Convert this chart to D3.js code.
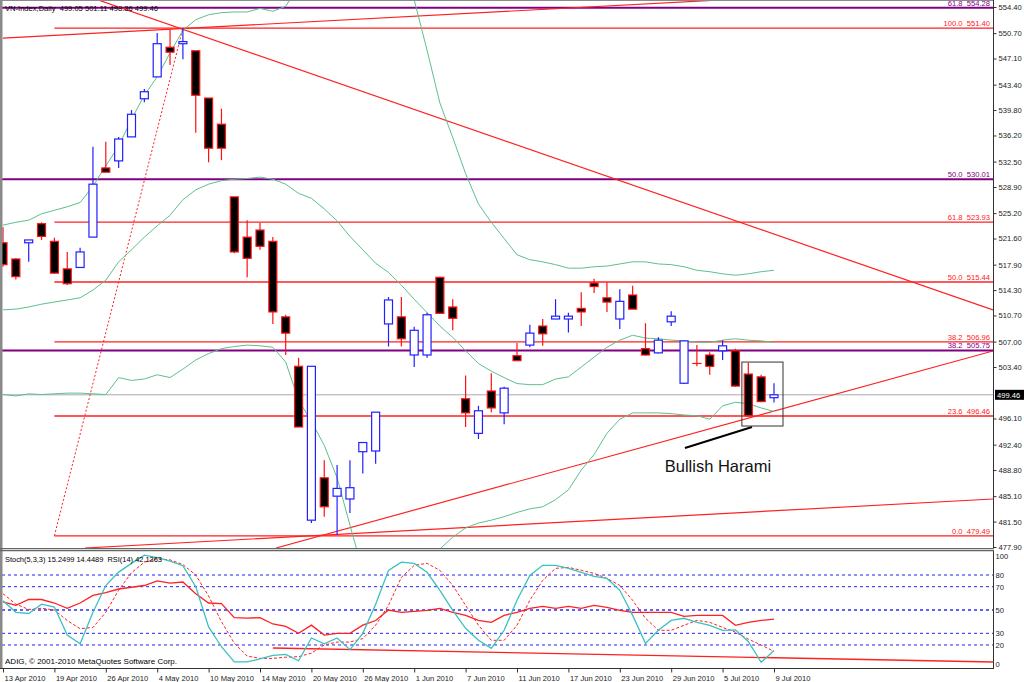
<!DOCTYPE html>
<html><head><meta charset="utf-8">
<script src="https://cdn.jsdelivr.net/npm/d3@7"></script>
<style>
body{margin:0;background:#fff;}
svg{display:block;}
text{font-family:"Liberation Sans",Arial,sans-serif;}
</style>
</head><body>
<svg id="c" width="1024" height="682"></svg>
<script>
// ---------------- DATA ----------------
const dates = ["13 Apr","14 Apr","15 Apr","16 Apr","19 Apr","20 Apr","21 Apr","22 Apr","26 Apr","27 Apr",
"28 Apr","29 Apr","4 May","5 May","6 May","7 May","10 May","11 May","12 May","13 May",
"14 May","17 May","18 May","19 May","20 May","21 May","24 May","25 May","26 May","27 May",
"28 May","31 May","1 Jun","2 Jun","3 Jun","4 Jun","7 Jun","8 Jun","9 Jun","10 Jun",
"11 Jun","14 Jun","15 Jun","16 Jun","17 Jun","18 Jun","21 Jun","22 Jun","23 Jun","24 Jun",
"25 Jun","28 Jun","29 Jun","30 Jun","1 Jul","2 Jul","5 Jul","6 Jul","7 Jul","8 Jul","9 Jul"];

const open  = [521.0,518.7,521.0,523.7,521.2,517.3,517.5,521.8,531.6,532.6,
536.0,541.4,544.5,548.7,549.2,548.2,541.5,537.8,527.5,521.8,
522.8,521.2,510.5,503.5,481.7,487.7,485.1,484.7,491.4,491.5,
509.5,510.5,505.1,505.1,516.1,511.9,498.9,494.0,500.0,496.9,
505.0,506.5,509.2,510.2,510.2,511.7,515.3,513.2,510.2,513.6,
506.0,505.4,509.8,501.1,503.9,505.1,505.7,505.7,502.4,502.0,499.05];
const high  = [523.2,518.8,521.4,523.9,521.7,519.7,520.3,534.6,535.3,536.0,
539.8,542.8,550.7,551.2,551.4,548.2,541.5,540.0,527.5,524.2,
523.8,521.8,510.8,504.7,503.5,490.2,489.5,490.2,492.7,497.0,
513.3,513.3,509.1,511.1,516.2,513.0,502.2,497.9,502.5,500.6,
506.8,509.4,510.2,513.0,511.1,514.0,515.9,515.4,514.4,514.9,
509.6,507.6,511.3,507.1,506.5,505.5,507.2,506.0,504.0,502.3,501.11];
const low   = [517.6,515.8,518.3,521.4,516.6,515.0,517.5,521.8,531.0,531.6,
536.0,540.9,544.5,546.2,547.0,536.6,532.4,532.7,519.5,516.1,
520.0,509.5,505.1,494.9,481.3,482.2,479.6,482.7,488.3,489.7,
506.3,506.3,503.4,504.7,511.0,508.6,494.9,493.2,497.0,495.3,
504.3,506.2,506.4,510.2,508.3,509.2,513.9,511.2,508.8,511.6,
505.0,505.3,509.2,501.0,503.5,502.3,504.4,500.6,496.3,498.4,498.36];
const close = [517.9,516.2,521.4,521.9,516.7,515.2,519.7,529.3,531.0,535.7,
539.2,542.4,549.2,548.0,549.5,541.9,534.4,534.4,519.7,518.8,
520.5,511.2,508.2,494.9,503.5,483.6,486.2,486.3,492.7,497.0,
512.9,507.4,508.6,510.8,511.0,510.3,496.9,497.2,497.6,500.4,
504.3,508.2,508.1,510.6,510.6,511.2,514.8,512.6,512.7,511.6,
505.1,507.2,510.6,507.1,503.9,503.5,506.4,500.7,496.5,498.5,499.46];

// Bollinger bands
const bbUpper = [523.5,523.9,524.2,525.1,525.6,526.1,526.7,529.0,531.9,534.7,
538.5,541.9,544.5,547.9,551.1,552.6,553.3,553.6,553.7,553.7,
554.2,553.8,554.5,557.3,558.9,559.3,560.5,562.8,565.5,565.2,
564.6,562.0,555.4,548.3,540.8,535.9,530.8,526.5,523.9,521.6,
519.3,518.6,518.3,517.9,517.4,517.4,517.6,517.7,518.0,518.3,
518.3,518.0,517.9,517.6,517.1,516.9,516.6,516.4,516.6,516.9,517.1];
const bbMiddle = [511.5,511.6,511.9,512.3,512.6,512.9,513.2,514.3,515.7,518.3,
520.0,521.8,523.4,524.9,527.1,528.5,529.3,529.8,530.0,530.1,
530.3,530.0,529.3,528.0,527.3,525.8,524.1,521.9,520.0,518.1,
516.8,515.0,513.0,511.1,509.2,507.6,505.7,503.9,502.8,501.9,
501.05,500.9,500.9,501.7,502.0,503.4,504.8,506.2,507.2,507.9,
507.5,507.4,507.2,507.1,506.9,506.9,507.2,507.4,507.2,507.1,506.9];
const bbLower = [499.5,499.3,499.6,499.5,499.6,499.7,499.7,499.6,499.5,501.9,
501.5,501.7,502.3,501.9,503.1,504.4,505.3,506.0,506.3,506.5,
506.4,506.2,504.1,498.7,495.7,492.3,487.7,481.0,474.5,471.0,
469.0,468.0,470.6,473.9,477.6,479.3,480.6,481.3,481.7,482.2,
482.8,483.3,483.6,484.6,486.0,488.8,491.0,494.0,496.0,496.9,
496.9,496.9,496.8,496.6,496.5,496.0,497.9,498.4,498.2,497.6,497.1];

// Lower window: Stochastic(5,3,3) and RSI(14)
const stochMain = [58,48,47,55,52.5,28.5,21,48,71,82.5,
90,97,95,92,88,70,35.5,18.5,5.5,5.5,
8,11,12,6.5,26,21,26,16,30,55,
84,91,90,82.3,66.9,49.7,34.3,24,17.1,32.6,
58.3,79.7,88.3,88.3,85.7,82.3,78.9,77.1,66.9,45.4,
21.4,32.6,41.1,42.9,39.4,36.9,32.6,33,23,5.1,15.2499];
const stochSignal = [64,55,50.5,51.5,50,41,34,35,48,67,
82,91,94,93,89,80,62,40,21.5,10.5,
8.5,8.5,9.5,10,13,20,22.5,22.5,25.5,37,
54,78,88.3,90,84,71.1,54,36.9,24,24,
36.9,58.3,75.4,85.7,86.6,84,81.4,77.1,71.1,58.3,
42.9,32.6,32.6,36.9,41.1,39.4,35.1,30.9,25,20,14.4489];
const rsi = [57,54,59,59,56,51.5,56,62.5,65,68,
69.5,71,75,73,74,64,56,55.5,43.5,43,
43.5,38,36,30,37,28.5,30,30,37,41,
50,48,48.9,49.7,51.4,48,45.4,41.1,39.4,45.4,
48,51.4,53.1,51.4,53.1,51.4,54,52.3,49.7,48,
48,48,48,44.6,45.4,45.4,45.4,36.9,39.4,41.1,42.1363];

// axis labels
const priceTicks = [554.40,550.70,547.10,543.40,539.80,536.20,532.50,528.90,525.20,521.60,517.90,
514.30,510.70,507.00,503.40,496.10,492.40,488.80,485.10,481.50,477.90];
const oscTicks = [100,80,70,50,30,20,0];
const oscLevels = [80,70,50,30,20];
const dateTickIdx = [0,4,8,12,16,20,24,28,32,36,40,44,48,52,56,60];
const dateTickLabels = ["13 Apr 2010","19 Apr 2010","26 Apr 2010","4 May 2010","10 May 2010","14 May 2010",
"20 May 2010","26 May 2010","1 Jun 2010","7 Jun 2010","11 Jun 2010","17 Jun 2010","23 Jun 2010",
"29 Jun 2010","5 Jul 2010","9 Jul 2010"];

// Fibonacci objects
const redFibLevels = ["100.0","61.8","50.0","38.2","23.6","0.0"];
const redFibValues = [551.40,523.93,515.44,506.96,496.46,479.49];
const purpleFibLevels = ["61.8","50.0","38.2"];
const purpleFibValues = [554.28,530.01,505.75];
const lastPrice = 499.46;

// trend lines [bar1, price1, bar2, price2]
const trendLines = [
  [7.0, 555.65, 77.04, 511.48],
  [0.0, 550.0, 60.0, 555.8],
  [21.25, 477.76, 77.04, 505.67],
  [6.38, 477.76, 77.04, 484.7]
];
const fibBaseLine = [4, 479.49, 14, 551.40];
const oscTrendLine = [21.0, 17.4, 77.04, 5.4];
const arrowLine = [53.07, 491.93, 58.29, 494.9];
const haramiBox = [57.5, 504.1, 60.7, 495.04];
const haramiText = {bar: 51.5, price: 488.5, text: "Bullish Harami"};

const headerText = "VN-Index,Daily  499.05 501.11 498.36 499.46";
const oscText = "Stoch(5,3,3) 15.2499 14.4489  RSI(14) 42.1363";
const copyText = "ADIG, \u00A9 2001-2010 MetaQuotes Software Corp.";

// ---------------- LAYOUT ----------------
const L = 2, R = 993, mTop = 0, mBot = 548, sTop = 550, sBot = 668;
const svg = d3.select("#c");
const x = d3.scaleLinear().domain([0, 60]).range([3, 774]);
const y = d3.scaleLinear().domain([477.9, 554.4]).range([547, 7]);
const yo = d3.scaleLinear().domain([0, 100]).range([668.3, 551.7]);

svg.append("rect").attr("width",1024).attr("height",682).attr("fill","#fff");
const defs = svg.append("defs");
defs.append("clipPath").attr("id","cm").append("rect").attr("x",L).attr("y",mTop).attr("width",R-L).attr("height",mBot-mTop);
defs.append("clipPath").attr("id","cs").append("rect").attr("x",L).attr("y",sTop).attr("width",R-L).attr("height",sBot-sTop);

const gm = svg.append("g").attr("clip-path","url(#cm)");
const gs = svg.append("g").attr("clip-path","url(#cs)");

// purple fib lines
gm.selectAll(".pf").data(purpleFibValues).join("line")
  .attr("x1",L).attr("x2",R).attr("y1",d=>y(d)).attr("y2",d=>y(d))
  .attr("stroke","#800080").attr("stroke-width",2);
// red fib lines
gm.selectAll(".rf").data(redFibValues).join("line")
  .attr("x1",x(4)).attr("x2",R).attr("y1",d=>y(d)).attr("y2",d=>y(d))
  .attr("stroke","#ff2020").attr("stroke-width",1.3);
// last price line
gm.append("line").attr("x1",L).attr("x2",R).attr("y1",y(lastPrice)).attr("y2",y(lastPrice))
  .attr("stroke","#a8a8b0").attr("stroke-width",1);
// fib base dotted
gm.append("line").attr("x1",x(fibBaseLine[0])).attr("y1",y(fibBaseLine[1]))
  .attr("x2",x(fibBaseLine[2])).attr("y2",y(fibBaseLine[3]))
  .attr("stroke","#ff2020").attr("stroke-dasharray","2,2").attr("stroke-width",1);
// trend lines
gm.selectAll(".tl").data(trendLines).join("line")
  .attr("x1",d=>x(d[0])).attr("y1",d=>y(d[1])).attr("x2",d=>x(d[2])).attr("y2",d=>y(d[3]))
  .attr("stroke","#ff2020").attr("stroke-width",1.2);

// bollinger bands
const idx = d3.range(close.length);
const bandLine = arr => d3.line().x(i=>x(i)).y(i=>y(arr[i]))(idx);
[bbUpper, bbMiddle, bbLower].forEach(a=>{
  gm.append("path").attr("d",bandLine(a)).attr("fill","none").attr("stroke","#5cc08c").attr("stroke-width",1);
});

// candles
const bw = 8;
const cg = gm.append("g");
idx.forEach(i=>{
  const bull = close[i] > open[i];
  const col = bull ? "#2020ff" : "#ff1010";
  const top = y(Math.max(open[i],close[i])), bot = y(Math.min(open[i],close[i]));
  cg.append("line").attr("x1",x(i)).attr("x2",x(i)).attr("y1",y(high[i])).attr("y2",top).attr("stroke",col).attr("stroke-width",1.2);
  cg.append("line").attr("x1",x(i)).attr("x2",x(i)).attr("y1",bot).attr("y2",y(low[i])).attr("stroke",col).attr("stroke-width",1.2);
  cg.append("rect").attr("x",x(i)-bw/2).attr("y",top).attr("width",bw).attr("height",Math.max(0.01,bot-top))
    .attr("fill",bull?"#fff":"#000").attr("stroke",col).attr("stroke-width",1.2);
});

// annotations
gm.append("line").attr("x1",x(arrowLine[0])).attr("y1",y(arrowLine[1])).attr("x2",x(arrowLine[2])).attr("y2",y(arrowLine[3]))
  .attr("stroke","#000").attr("stroke-width",2);
gm.append("rect").attr("x",x(haramiBox[0])).attr("y",y(haramiBox[1]))
  .attr("width",x(haramiBox[2])-x(haramiBox[0])).attr("height",y(haramiBox[3])-y(haramiBox[1]))
  .attr("fill","none").attr("stroke","#333").attr("stroke-width",1);
svg.append("text").attr("x",x(haramiText.bar)).attr("y",y(haramiText.price)).text(haramiText.text)
  .attr("font-size",16.5).attr("fill","#111");

// fib labels
gm.selectAll(".rfl").data(redFibValues).join("text")
  .attr("x",990).attr("y",d=>y(d)-2).attr("text-anchor","end").attr("font-size",7.6)
  .style("white-space","pre").attr("fill","#ff2020")
  .text((d,i)=>redFibLevels[i]+"  "+d.toFixed(2));
gm.selectAll(".pfl").data(purpleFibValues).join("text")
  .attr("x",990).attr("y",d=>y(d)-2).attr("text-anchor","end").attr("font-size",7.6)
  .style("white-space","pre").attr("fill","#800080")
  .text((d,i)=>purpleFibLevels[i]+"  "+d.toFixed(2));

// ---------------- OSCILLATOR WINDOW ----------------
gs.selectAll(".ol").data(oscLevels).join("line")
  .attr("x1",L).attr("x2",R).attr("y1",d=>yo(d)).attr("y2",d=>yo(d))
  .attr("stroke",d=>d===50?"#6060ff":"#2020ff").attr("stroke-width",d=>d===50?2:1).attr("stroke-dasharray","3,3");
gs.append("line").attr("x1",x(oscTrendLine[0])).attr("y1",yo(oscTrendLine[1])).attr("x2",x(oscTrendLine[2])).attr("y2",yo(oscTrendLine[3]))
  .attr("stroke","#ff2020").attr("stroke-width",1.3);
const oLine = arr => d3.line().x(i=>x(i)).y(i=>yo(arr[i]))(idx);
gs.append("path").attr("d",oLine(rsi)).attr("fill","none").attr("stroke","#ff2020").attr("stroke-width",1.3);
gs.append("path").attr("d",oLine(stochSignal)).attr("fill","none").attr("stroke","#ff2020").attr("stroke-width",1).attr("stroke-dasharray","3,2");
gs.append("path").attr("d",oLine(stochMain)).attr("fill","none").attr("stroke","#3cc0c0").attr("stroke-width",1.3);

// ---------------- FRAMES & AXES ----------------
svg.append("rect").attr("x",0).attr("y",0).attr("width",2.5).attr("height",sBot).attr("fill","#8a8a8a");
svg.append("line").attr("x1",0).attr("x2",R).attr("y1",0.5).attr("y2",0.5).attr("stroke","#8a8a8a");
svg.append("line").attr("x1",R+0.5).attr("x2",R+0.5).attr("y1",0).attr("y2",mBot).attr("stroke","#333");
svg.append("line").attr("x1",R+0.5).attr("x2",R+0.5).attr("y1",sTop).attr("y2",sBot).attr("stroke","#333");
svg.append("line").attr("x1",0).attr("x2",R+1).attr("y1",mBot+0.5).attr("y2",mBot+0.5).attr("stroke","#666");
svg.append("line").attr("x1",0).attr("x2",R+1).attr("y1",sTop+0.5).attr("y2",sTop+0.5).attr("stroke","#666").attr("stroke-width",1.5);
svg.append("line").attr("x1",0).attr("x2",R+1).attr("y1",sBot+0.5).attr("y2",sBot+0.5).attr("stroke","#333");

const ay = svg.append("g").attr("transform",`translate(${R+0.5},0)`)
  .call(d3.axisRight(y).tickValues(priceTicks).tickFormat(d3.format(".2f")).tickSize(3).tickPadding(2));
ay.select(".domain").remove();
ay.selectAll("text").attr("font-size",7.6).attr("fill","#222").attr("font-family","Liberation Sans, Arial, sans-serif");
ay.selectAll("line").attr("stroke","#333");

const ao = svg.append("g").attr("transform",`translate(${R+0.5},0)`)
  .call(d3.axisRight(yo).tickValues(oscTicks).tickFormat(d3.format("d")).tickSize(0).tickPadding(2));
ao.select(".domain").remove();
ao.selectAll("text").attr("font-size",7.6).attr("fill","#222").attr("font-family","Liberation Sans, Arial, sans-serif")
  .attr("dy",d=>d===100?"0.9em":(d===0?"-0.2em":"0.32em"));

const ax = svg.append("g").attr("transform",`translate(0,${sBot+0.5})`)
  .call(d3.axisBottom(x).tickValues(dateTickIdx).tickFormat((d,i)=>dateTickLabels[i]).tickSize(4).tickPadding(3));
ax.select(".domain").remove();
ax.selectAll("text").attr("font-size",7.6).attr("fill","#222").attr("text-anchor","start").attr("dx",1)
  .attr("font-family","Liberation Sans, Arial, sans-serif");
ax.selectAll("line").attr("stroke","#333");

// last price box
svg.append("rect").attr("x",R+2).attr("y",y(lastPrice)-5).attr("width",29).attr("height",10).attr("fill","#000");
svg.append("text").attr("x",R+4).attr("y",y(lastPrice)+3).text(lastPrice.toFixed(2)).attr("font-size",7.6).attr("fill","#fff");

// header texts
svg.append("text").attr("x",5).attr("y",11).text(headerText).style("white-space","pre")
  .attr("font-size",8).attr("textLength",153).attr("lengthAdjust","spacingAndGlyphs").attr("fill","#000");
svg.append("text").attr("x",5).attr("y",562).text(oscText).style("white-space","pre")
  .attr("font-size",8).attr("textLength",157).attr("lengthAdjust","spacingAndGlyphs").attr("fill","#000");
svg.append("text").attr("x",5).attr("y",664).text(copyText)
  .attr("font-size",8).attr("textLength",172).attr("lengthAdjust","spacingAndGlyphs").attr("fill","#000");
</script>
</body></html>
